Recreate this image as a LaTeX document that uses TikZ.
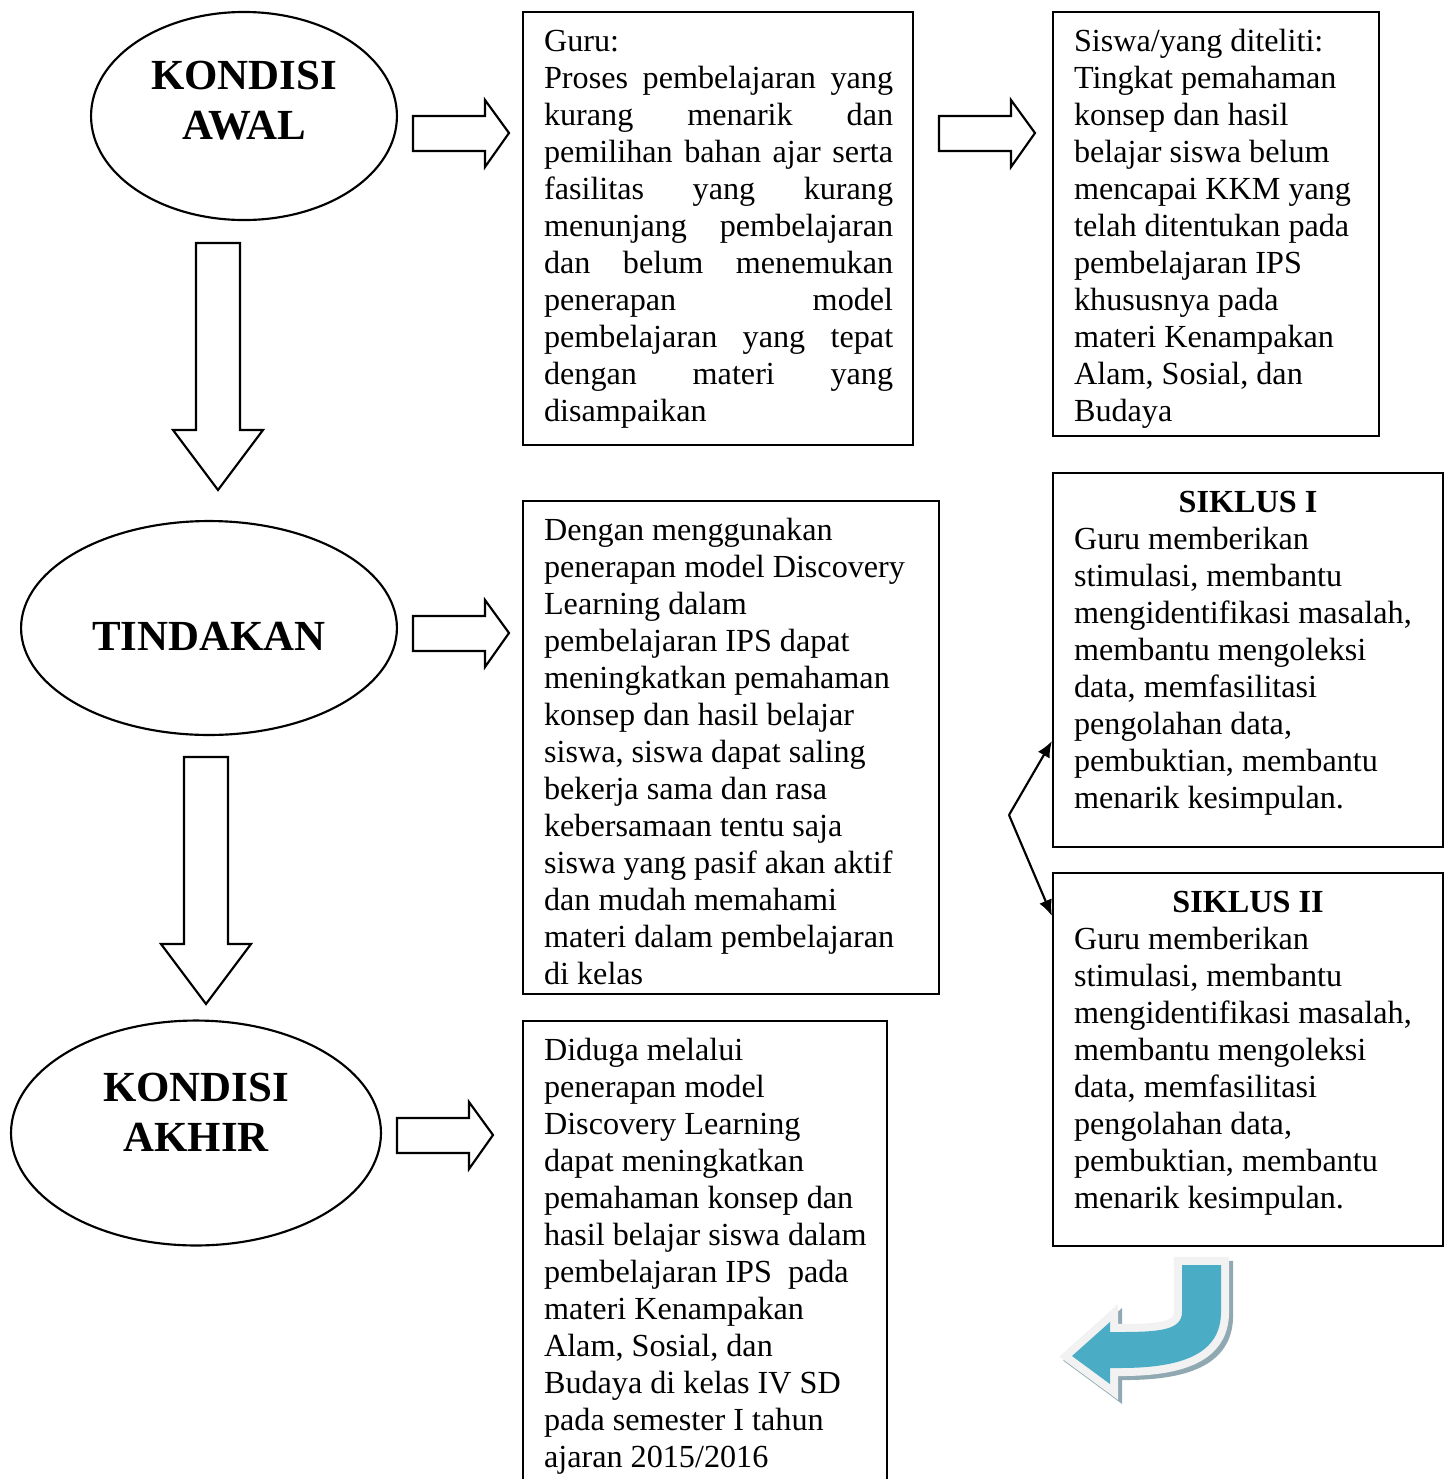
\documentclass[tikz,border=0pt]{standalone}
\usepackage{fontspec}
\setmainfont{Liberation Serif}
\usetikzlibrary{shapes.geometric,arrows.meta,calc,fit}
\hyphenpenalty=10000
\exhyphenpenalty=10000
\tolerance=10000
\definecolor{arrowblue}{HTML}{4BACC6}
\definecolor{arrowrim}{HTML}{F2F2F2}
\definecolor{arrowshade}{HTML}{8FA8B1}
\begin{document}
\begin{tikzpicture}[x=0.373pt,y=-0.373pt,
  line width=0.8pt,
  ell/.style={draw,ellipse,inner sep=0},
  box/.style={draw,rectangle,inner sep=0},
  body/.style={anchor=north west,inner sep=0,align=left,font=\fontsize{12}{13.8}\selectfont},
  head/.style={inner sep=0,align=center,font=\fontsize{16}{18.6}\selectfont\bfseries},
  cyclehead/.style={inner sep=0,anchor=base,font=\fontsize{12}{13.8}\selectfont\bfseries},
  rarr/.pic={\draw (0,-17) -- (72,-17) -- (72,-33) -- (96,0) -- (72,34) -- (72,18) -- (0,18) -- cycle;},
  darr/.pic={\draw (-22,0) -- (22,0) -- (22,187) -- (45,187) -- (0,247) -- (-45,187) -- (-22,187) -- cycle;},
  tip/.style={-{Latex[length=6pt,width=5pt]}}
]
\useasboundingbox (0,0) rectangle (1450,1479);

% ellipses
\node[ell,minimum width=114.1pt,minimum height=77.6pt] (awal) at (244,116) {};
\node[head] (awaltext) at (244,101) {KONDISI\\AWAL};
\node[ell,minimum width=140.2pt,minimum height=79.8pt] (tindakan) at (209,628) {};
\node[head] (tindakantext) at (209,636) {TINDAKAN};
\node[ell,minimum width=138pt,minimum height=83.9pt] (akhir) at (196,1133) {};
\node[head] (akhirtext) at (196,1112) {KONDISI\\AKHIR};

% block arrows
\pic at (218,243) {darr};
\pic at (206,757) {darr};
\pic at (413,133) {rarr};
\pic at (939,133) {rarr};
\pic at (413,633) {rarr};
\pic at (397,1135) {rarr};

% boxes
\node[box,fit={(523,12) (913,445)}] (guru) {};
\node[box,fit={(1053,12) (1379,436)}] (siswa) {};
\node[box,fit={(523,501) (939,994)}] (dengan) {};
\node[box,fit={(523,1021) (887,1495)}] (diduga) {};
\node[box,fit={(1053,473) (1443,847)}] (s1) {};
\node[box,fit={(1053,873) (1443,1246)}] (s2) {};

% texts
\node[body,text width=130.2pt,align=justify] (gurutext) at (543,25) {\strut Guru:\\
Proses pembelajaran yang\linebreak
kurang menarik dan\linebreak
pemilihan bahan ajar serta\linebreak
fasilitas yang kurang\linebreak
menunjang pembelajaran\linebreak
dan belum menemukan\linebreak
penerapan model\linebreak
pembelajaran yang tepat\linebreak
dengan materi yang\linebreak
disampaikan};

\node[body] (siswatext) at (1073,25) {\strut Siswa/yang diteliti:\\
Tingkat pemahaman\\
konsep dan hasil\\
belajar siswa belum\\
mencapai KKM yang\\
telah ditentukan pada\\
pembelajaran IPS\\
khususnya pada\\
materi Kenampakan\\
Alam, Sosial, dan\\
Budaya};

\node[body] (dengantext) at (543,514) {\strut Dengan menggunakan\\
penerapan model Discovery\\
Learning dalam\\
pembelajaran IPS dapat\\
meningkatkan pemahaman\\
konsep dan hasil belajar\\
siswa, siswa dapat saling\\
bekerja sama dan rasa\\
kebersamaan tentu saja\\
siswa yang pasif akan aktif\\
dan mudah memahami\\
materi dalam pembelajaran\\
di kelas};

\node[body] (didugatext) at (543,1034) {\strut Diduga melalui\\
penerapan model\\
Discovery Learning\\
dapat meningkatkan\\
pemahaman konsep dan\\
hasil belajar siswa dalam\\
pembelajaran IPS\ \ pada\\
materi Kenampakan\\
Alam, Sosial, dan\\
Budaya di kelas IV SD\\
pada semester I tahun\\
ajaran 2015/2016};

\node[cyclehead] (s1head) at (1248,512) {SIKLUS I};
\node[body] (s1text) at (1073,523) {\strut Guru memberikan\\
stimulasi, membantu\\
mengidentifikasi masalah,\\
membantu mengoleksi\\
data, memfasilitasi\\
pengolahan data,\\
pembuktian, membantu\\
menarik kesimpulan.};

\node[cyclehead] (s2head) at (1248,912) {SIKLUS II};
\node[body] (s2text) at (1073,923) {\strut Guru memberikan\\
stimulasi, membantu\\
mengidentifikasi masalah,\\
membantu mengoleksi\\
data, memfasilitasi\\
pengolahan data,\\
pembuktian, membantu\\
menarik kesimpulan.};

% branch arrows
\coordinate (fork) at (1009,815);
\draw[tip] (fork) -- ($(s1.south west)+(0,-107)$);
\draw[tip] (fork) -- ($(s2.north west)+(0,44)$);

% blue curved arrow
\def\bluearrow{(1182,1265) -- (1221,1265) -- (1221,1312)
  .. controls (1221,1355) and (1180,1368) .. (1120,1368)
  -- (1110,1368) -- (1110,1384) -- (1072,1356) -- (1110,1322) -- (1110,1332) -- (1120,1332)
  .. controls (1160,1332) and (1182,1330) .. (1182,1312) -- cycle}
\begin{scope}[shift={(4,4)}]
\filldraw[arrowshade,line width=6pt,line join=miter] \bluearrow;
\end{scope}
\filldraw[draw=arrowrim,fill=arrowrim,line width=6pt,line join=miter] \bluearrow;
\fill[arrowblue] \bluearrow;
\end{tikzpicture}
\end{document}
